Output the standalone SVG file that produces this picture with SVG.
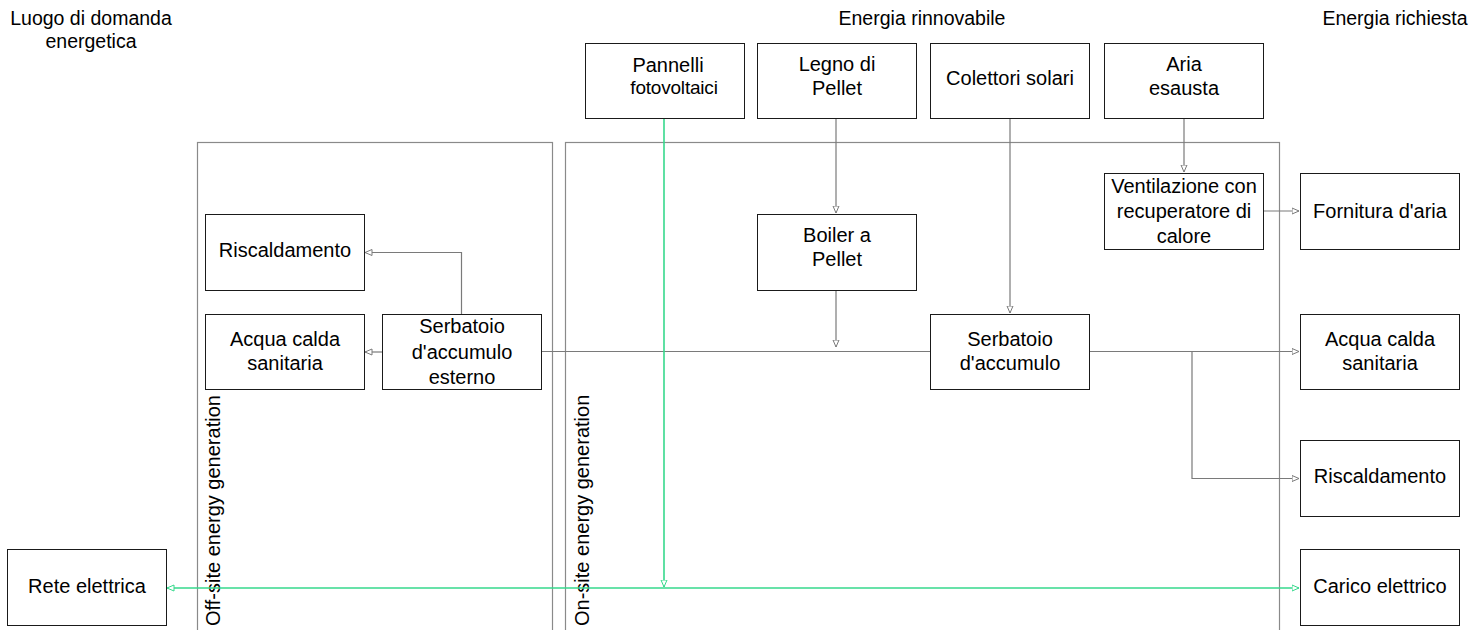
<svg xmlns="http://www.w3.org/2000/svg" width="1473" height="630" viewBox="0 0 1473 630">
  <defs>
    <marker id="arrow" viewBox="0 0 8 8" refX="7.5" refY="4" markerWidth="8" markerHeight="8" markerUnits="userSpaceOnUse" orient="auto-start-reverse">
      <path d="M0.5,1 L7.5,4 L0.5,7 Z" fill="#fff" stroke="#7a7a7a" stroke-width="1"/>
    </marker>
    <marker id="arrow-green" viewBox="0 0 8 8" refX="7.5" refY="4" markerWidth="8" markerHeight="8" markerUnits="userSpaceOnUse" orient="auto-start-reverse">
      <path d="M0.5,1 L7.5,4 L0.5,7 Z" fill="#fff" stroke="#36d98c" stroke-width="1"/>
    </marker>
  </defs>
  <style>
    text { font-family: "Liberation Sans", Arial, sans-serif; fill: #000; }
    .hdr { font-size: 19.5px; text-anchor: middle; }
    .lbl { font-size: 20px; text-anchor: middle; }
    .small { font-size: 19px; letter-spacing: -0.2px; }
    .side { font-size: 20px; }
    .box { fill: #fff; stroke: #1a1a1a; stroke-width: 1; }
    .panel { fill: none; stroke: #8a8a8a; stroke-width: 1.2; }
    .conn { fill: none; stroke: #7a7a7a; stroke-width: 1.2; }
    .elec { fill: none; stroke: #36d98c; stroke-width: 1.6; }
  </style>
  <rect width="1473" height="630" fill="#fff"/>

  <!-- column headers -->
  <g id="headers">
    <text class="hdr" x="91" y="25">Luogo di domanda</text>
    <text class="hdr" x="91" y="48">energetica</text>
    <text class="hdr" x="922" y="25">Energia rinnovabile</text>
    <text class="hdr" x="1395" y="25">Energia richiesta</text>
  </g>

  <!-- generation zones -->
  <g id="zone-offsite">
    <rect class="panel" x="197.5" y="142.5" width="355" height="500"/>
    <text class="side" transform="translate(220 626) rotate(-90)">Off-site energy generation</text>
  </g>
  <g id="zone-onsite">
    <rect class="panel" x="565.5" y="142.5" width="714" height="500"/>
    <text class="side" transform="translate(589 626) rotate(-90)">On-site energy generation</text>
  </g>

  <!-- connectors -->
  <g id="connectors">
    <path class="conn" d="M836,118 V213" marker-end="url(#arrow)"/>
    <path class="conn" d="M1010,118 V313" marker-end="url(#arrow)"/>
    <path class="conn" d="M1184,118 V172" marker-end="url(#arrow)"/>
    <path class="conn" d="M836,290 V347" marker-end="url(#arrow)"/>
    <path class="conn" d="M1263,211 H1299" marker-end="url(#arrow)"/>
    <path class="conn" d="M541,351.5 H930"/>
    <path class="conn" d="M1089,351.5 H1299" marker-end="url(#arrow)"/>
    <path class="conn" d="M1192,351.5 V478.5 H1299" marker-end="url(#arrow)"/>
    <path class="conn" d="M461.5,314 V252.5 H365" marker-end="url(#arrow)"/>
    <path class="conn" d="M382,352 H365" marker-end="url(#arrow)"/>
    <path class="elec" d="M664,118 V587" marker-end="url(#arrow-green)"/>
    <path class="elec" d="M167,588 H1299" marker-start="url(#arrow-green)" marker-end="url(#arrow-green)"/>
  </g>

  <!-- renewable sources -->
  <g id="node-pannelli">
    <rect class="box" x="585.5" y="43.5" width="159" height="75"/>
    <text class="lbl" x="668" y="72">Pannelli</text>
    <text class="lbl small" x="674" y="94">fotovoltaici</text>
  </g>
  <g id="node-legno">
    <rect class="box" x="757.5" y="43.5" width="159" height="75"/>
    <text class="lbl" x="837" y="71">Legno di</text>
    <text class="lbl" x="837" y="95">Pellet</text>
  </g>
  <g id="node-colettori">
    <rect class="box" x="930.5" y="43.5" width="159" height="75"/>
    <text class="lbl" x="1010" y="85">Colettori solari</text>
  </g>
  <g id="node-aria">
    <rect class="box" x="1104.5" y="43.5" width="159" height="75"/>
    <text class="lbl" x="1184" y="71">Aria</text>
    <text class="lbl" x="1184" y="95">esausta</text>
  </g>

  <!-- on-site equipment -->
  <g id="node-ventilazione">
    <rect class="box" x="1104.5" y="173.5" width="159" height="76"/>
    <text class="lbl" x="1184" y="193">Ventilazione con</text>
    <text class="lbl" x="1184" y="218">recuperatore di</text>
    <text class="lbl" x="1184" y="243">calore</text>
  </g>
  <g id="node-boiler">
    <rect class="box" x="757.5" y="214.5" width="159" height="76"/>
    <text class="lbl" x="837" y="242">Boiler a</text>
    <text class="lbl" x="837" y="266">Pellet</text>
  </g>
  <g id="node-serbatoio">
    <rect class="box" x="930.5" y="314.5" width="159" height="75"/>
    <text class="lbl" x="1010" y="346">Serbatoio</text>
    <text class="lbl" x="1010" y="370">d'accumulo</text>
  </g>

  <!-- off-site equipment and local demand -->
  <g id="node-serbatoio-esterno">
    <rect class="box" x="382.5" y="314.5" width="159" height="75"/>
    <text class="lbl" x="462" y="333">Serbatoio</text>
    <text class="lbl" x="462" y="359">d'accumulo</text>
    <text class="lbl" x="462" y="384">esterno</text>
  </g>
  <g id="node-riscaldamento-locale">
    <rect class="box" x="205.5" y="214.5" width="159" height="76"/>
    <text class="lbl" x="285" y="257">Riscaldamento</text>
  </g>
  <g id="node-acqua-locale">
    <rect class="box" x="205.5" y="314.5" width="159" height="75"/>
    <text class="lbl" x="285" y="346">Acqua calda</text>
    <text class="lbl" x="285" y="370">sanitaria</text>
  </g>
  <g id="node-rete">
    <rect class="box" x="7.5" y="549.5" width="159" height="76"/>
    <text class="lbl" x="87" y="593">Rete elettrica</text>
  </g>

  <!-- required energy -->
  <g id="node-fornitura">
    <rect class="box" x="1300.5" y="173.5" width="159" height="76"/>
    <text class="lbl" x="1380" y="218">Fornitura d'aria</text>
  </g>
  <g id="node-acqua">
    <rect class="box" x="1300.5" y="314.5" width="159" height="75"/>
    <text class="lbl" x="1380" y="346">Acqua calda</text>
    <text class="lbl" x="1380" y="370">sanitaria</text>
  </g>
  <g id="node-riscaldamento">
    <rect class="box" x="1300.5" y="440.5" width="159" height="76"/>
    <text class="lbl" x="1380" y="483">Riscaldamento</text>
  </g>
  <g id="node-carico">
    <rect class="box" x="1300.5" y="549.5" width="159" height="76"/>
    <text class="lbl" x="1380" y="593">Carico elettrico</text>
  </g>
</svg>
